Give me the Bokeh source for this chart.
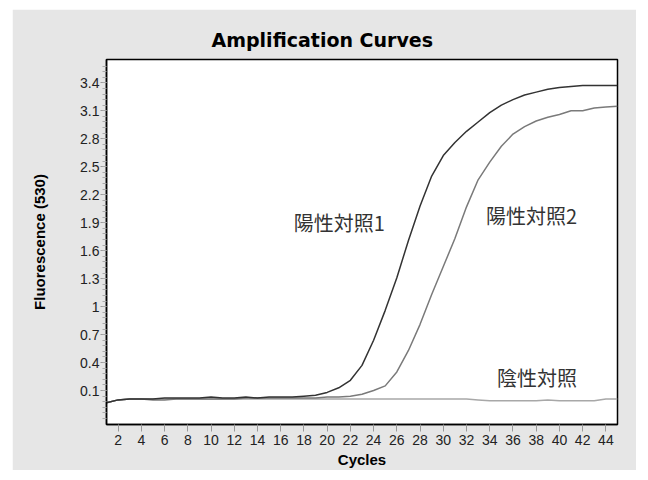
from bokeh.plotting import figure
from bokeh.models import Range1d, FixedTicker, Label, ColumnDataSource
from bokeh.embed import file_html
from bokeh.resources import INLINE

cycles = list(range(1, 46))
positive_control_1 = [-0.03, 0.00, 0.01, 0.01, 0.01, 0.02, 0.02, 0.02, 0.02, 0.03,
                      0.02, 0.02, 0.03, 0.02, 0.03, 0.03, 0.03, 0.04, 0.05, 0.08,
                      0.13, 0.21, 0.37, 0.64, 0.96, 1.31, 1.71, 2.08, 2.40, 2.62,
                      2.76, 2.88, 2.98, 3.08, 3.16, 3.22, 3.27, 3.30, 3.33, 3.35,
                      3.36, 3.37, 3.37, 3.37, 3.37]
positive_control_2 = [-0.03, 0.00, 0.01, 0.01, 0.00, 0.00, 0.01, 0.01, 0.01, 0.01,
                      0.01, 0.01, 0.02, 0.02, 0.02, 0.02, 0.02, 0.02, 0.02, 0.03,
                      0.03, 0.04, 0.06, 0.10, 0.15, 0.30, 0.53, 0.81, 1.13, 1.43,
                      1.73, 2.07, 2.36, 2.55, 2.72, 2.85, 2.93, 2.99, 3.03, 3.06,
                      3.10, 3.10, 3.13, 3.14, 3.15]
negative_control = [-0.03, 0.00, 0.01, 0.01, 0.01, 0.01, 0.01, 0.01, 0.01, 0.01,
                    0.01, 0.01, 0.01, 0.01, 0.01, 0.01, 0.01, 0.01, 0.01, 0.01,
                    0.01, 0.01, 0.01, 0.01, 0.01, 0.01, 0.01, 0.01, 0.01, 0.01,
                    0.01, 0.01, 0.00, -0.01, -0.01, -0.01, -0.01, -0.01, 0.00, -0.01,
                    -0.01, -0.01, -0.01, 0.01, 0.01]

x_ticks = list(range(2, 45, 2))
y_ticks = [0.1, 0.4, 0.7, 1.0, 1.3, 1.6, 1.9, 2.2, 2.5, 2.8, 3.1, 3.4]
y_tick_labels = ["0.1", "0.4", "0.7", "1", "1.3", "1.6", "1.9", "2.2", "2.5", "2.8", "3.1", "3.4"]
y_minor = [round(-0.2 + 0.06 * i, 2) for i in range(0, 64)]

series_names = ["陽性対照1", "陽性対照2", "陰性対照"]

BG = "#e6e6e6"

p = figure(width=624, height=461, margin=(9, 0, 0, 12),
           output_backend="svg", toolbar_location=None,
           x_range=Range1d(1, 45), y_range=Range1d(-0.264, 3.65),
           min_border_left=94, min_border_right=19, min_border_top=50, min_border_bottom=46)
p.border_fill_color = BG
p.background_fill_color = "white"
p.outline_line_color = "black"
p.outline_line_width = 1.5
p.xgrid.visible = False
p.ygrid.visible = False

p.title.text = "Amplification Curves"
p.title.text_font = "DejaVu Sans"
p.title.text_font_style = "bold"
p.title.text_font_size = "19px"
p.title.text_color = "black"
p.title.align = "left"
p.title.offset = 105
p.title.standoff = 17

src = ColumnDataSource(dict(c=cycles, p1=positive_control_1, p2=positive_control_2, n=negative_control))
p.line("c", "n", source=src, line_color="#a8a8a8", line_width=1.5)
p.line("c", "p2", source=src, line_color="#7a7a7a", line_width=1.5)
p.line("c", "p1", source=src, line_color="#333333", line_width=1.5)

# axes
xa = p.xaxis[0]
xa.ticker = FixedTicker(ticks=x_ticks, minor_ticks=[])
xa.axis_label = "Cycles"
xa.axis_label_text_font = "Liberation Sans"
xa.axis_label_text_font_style = "bold"
xa.axis_label_text_font_size = "15px"
xa.axis_label_text_color = "black"
xa.axis_label_standoff = 3
xa.major_label_text_font = "Liberation Sans"
xa.major_label_text_font_size = "14px"
xa.major_label_text_color = "#222222"
xa.major_label_standoff = 3
xa.major_tick_out = 7
xa.major_tick_in = 0
xa.minor_tick_out = 0
xa.minor_tick_in = 0
xa.major_tick_line_color = "#999999"
xa.axis_line_color = "black"
xa.axis_line_width = 1.5

ya = p.yaxis[0]
ya.ticker = FixedTicker(ticks=y_ticks, minor_ticks=y_minor)
ya.major_label_overrides = {t: l for t, l in zip(y_ticks, y_tick_labels)}
ya.axis_label = "Fluorescence (530)"
ya.axis_label_text_font = "Liberation Sans"
ya.axis_label_text_font_style = "bold"
ya.axis_label_text_font_size = "15px"
ya.axis_label_text_color = "black"
ya.axis_label_standoff = 29
ya.major_label_text_font = "Liberation Sans"
ya.major_label_text_font_size = "14px"
ya.major_label_text_color = "#222222"
ya.major_label_standoff = 1
ya.major_tick_out = 6
ya.major_tick_in = 0
ya.minor_tick_out = 4
ya.minor_tick_in = 0
ya.major_tick_line_color = "#999999"
ya.minor_tick_line_color = "#aaaaaa"
ya.axis_line_color = "black"
ya.axis_line_width = 1.5

label_pos = [(21.05, 1.90), (37.6, 1.975), (38.07, 0.24)]
for name, (lx, ly) in zip(series_names, label_pos):
    p.add_layout(Label(x=lx, y=ly, text=name, text_align="center", text_baseline="middle",
                       text_font="Noto Sans CJK JP", text_font_size="20px",
                       text_color="#333333"))

open("out.html", "w").write(file_html(p, INLINE))
